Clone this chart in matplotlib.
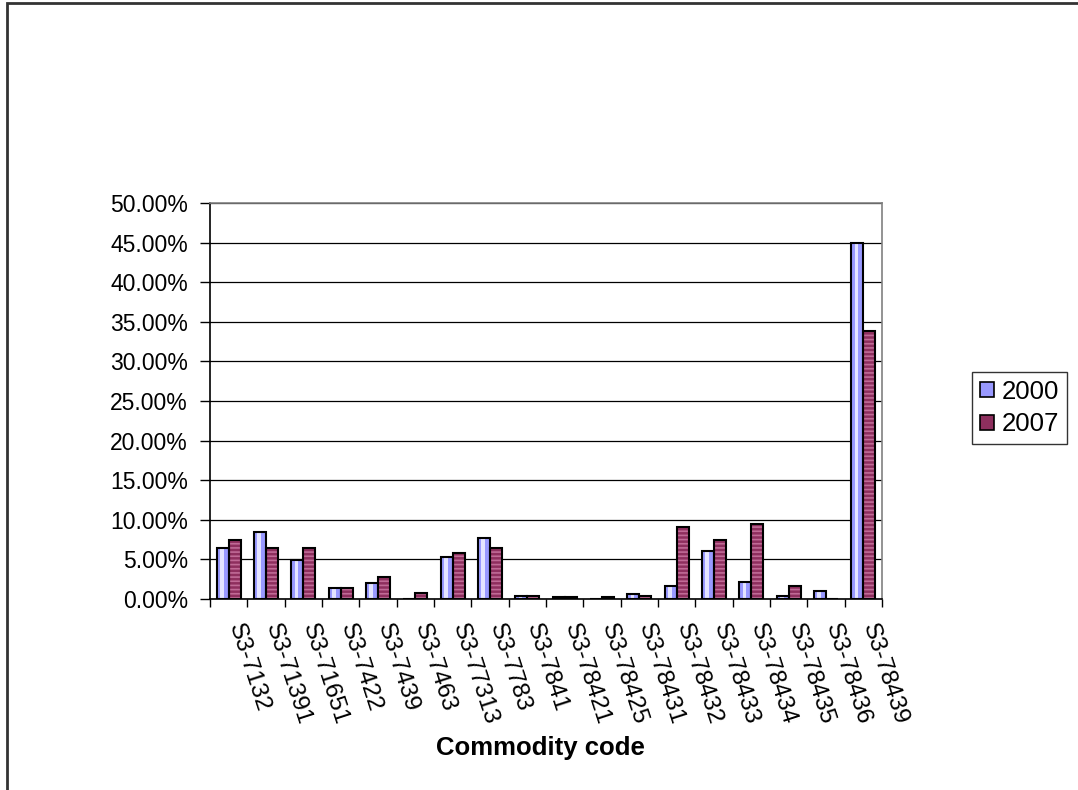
import matplotlib.pyplot as plt
import numpy as np
from matplotlib.patches import Patch, Rectangle
from matplotlib.ticker import PercentFormatter, MultipleLocator, FixedLocator

plt.rcParams['font.family'] = ['Liberation Sans', 'DejaVu Sans']
plt.rcParams['hatch.linewidth'] = 1.2

codes = ['S3-7132', 'S3-71391', 'S3-71651', 'S3-7422', 'S3-7439', 'S3-7463',
         'S3-77313', 'S3-7783', 'S3-7841', 'S3-78421', 'S3-78425', 'S3-78431',
         'S3-78432', 'S3-78433', 'S3-78434', 'S3-78435', 'S3-78436', 'S3-78439']
share_2000 = [0.065, 0.084, 0.049, 0.014, 0.020, 0.0, 0.053, 0.077, 0.004,
              0.002, 0.0, 0.0065, 0.016, 0.060, 0.021, 0.004, 0.0095, 0.450]
share_2007 = [0.0745, 0.065, 0.065, 0.014, 0.028, 0.007, 0.0585, 0.065, 0.004,
              0.002, 0.002, 0.004, 0.091, 0.074, 0.095, 0.016, 0.0, 0.338]
years = ['2000', '2007']

fig = plt.figure(figsize=(10.78, 7.90), dpi=100)
ax = fig.add_axes([210 / 1078, 1 - 599 / 790, 672 / 1078, 396 / 790])

x = np.arange(len(codes))
w = 0.32

# 2000: light blue with a pale highlight stripe
ax.bar(x - w / 2, share_2000, w, color='#9999FF', linewidth=0, zorder=3)
ax.bar(x - w / 2 - w * 0.08, share_2000, w * 0.3, color='#E4E4FF', linewidth=0, zorder=3)
ax.bar(x - w / 2, share_2000, w, fill=False, edgecolor='black', linewidth=1.5, zorder=4)

# 2007: maroon with horizontal stripes
ax.bar(x + w / 2, share_2007, w, color='#8E2F5E', hatch='----', edgecolor='#C06A96',
       linewidth=0, zorder=3)
ax.bar(x + w / 2, share_2007, w, fill=False, edgecolor='black', linewidth=1.5, zorder=4)

ax.set_xlim(-0.5, len(codes) - 0.5)
ax.set_ylim(0, 0.5)
ax.yaxis.set_major_locator(MultipleLocator(0.05))
ax.yaxis.set_major_formatter(PercentFormatter(xmax=1, decimals=2))
ax.grid(axis='y', color='black', linewidth=0.9, zorder=0)
ax.set_axisbelow(True)

ax.spines['top'].set_color('#808080')
ax.spines['right'].set_color('#808080')
for s in ['left', 'bottom']:
    ax.spines[s].set_color('black')
for s in ax.spines.values():
    s.set_linewidth(1.2)

ax.tick_params(axis='y', direction='out', length=7, width=1, pad=9, labelsize=16.5)
ax.set_xticks(x)
ax.set_xticklabels([])
ax.tick_params(axis='x', which='major', length=0)
ax.xaxis.set_minor_locator(FixedLocator(np.arange(len(codes) + 1) - 0.5))
ax.tick_params(axis='x', which='minor', direction='out', length=6, width=1)

for i, c in enumerate(codes):
    ax.annotate(c, xy=(i, 0), xycoords=('data', 'axes fraction'),
                xytext=(4, -18), textcoords='offset points',
                rotation=-72, rotation_mode='anchor', ha='left', va='center',
                fontsize=17.5)

fig.text(540 / 1078, 1 - 748 / 790, 'Commodity code', ha='center', va='center',
         fontsize=18.5, fontweight='bold')

handles = [Patch(facecolor='#9999FF', edgecolor='black', linewidth=1.2),
           Patch(facecolor='#8E2F5E', edgecolor='black', linewidth=1.2)]
leg = fig.legend(handles, years, loc='center left',
                 bbox_to_anchor=(972 / 1078, 1 - 408 / 790), fontsize=18.5,
                 frameon=True, fancybox=False, handlelength=0.55, handleheight=0.55,
                 handletextpad=0.3, borderpad=0.3, labelspacing=0.35,
                 borderaxespad=0)
leg.get_frame().set_edgecolor('black')
leg.get_frame().set_linewidth(1.0)

fig.patches.append(Rectangle((7 / 1078, -0.1), 1.2, 1 - 3 / 790 + 0.1,
                             transform=fig.transFigure, fill=False,
                             edgecolor='#333333', linewidth=2))

fig.savefig('out.png', dpi=100)
